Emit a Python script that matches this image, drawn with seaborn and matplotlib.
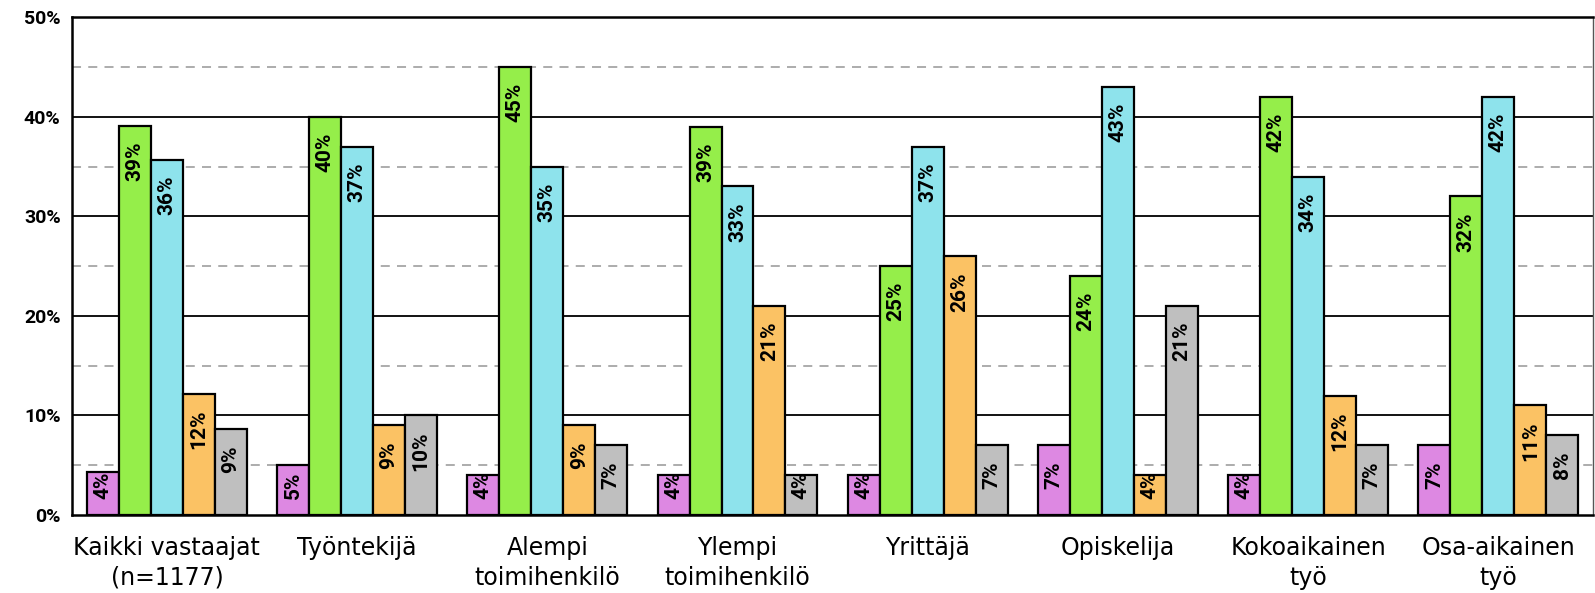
import matplotlib
matplotlib.use("Agg")
import matplotlib.pyplot as plt
import seaborn as sns
import pandas as pd
from matplotlib.ticker import FuncFormatter, MultipleLocator

# Datos
categorias = ["Kaikki vastaajat\n(n=1177)", "Työntekijä", "Alempi\ntoimihenkilö",
              "Ylempi\ntoimihenkilö", "Yrittäjä", "Opiskelija",
              "Kokoaikainen\ntyö", "Osa-aikainen\ntyö"]
series = ["s1", "s2", "s3", "s4", "s5"]
valores_s1 = [4.3, 5, 4, 4, 4, 7, 4, 7]
valores_s2 = [39.1, 40, 45, 39, 25, 24, 42, 32]
valores_s3 = [35.7, 37, 35, 33, 37, 43, 34, 42]
valores_s4 = [12.2, 9, 9, 21, 26, 4, 12, 11]
valores_s5 = [8.6, 10, 7, 4, 7, 21, 7, 8]
colores = ["#DD88E2", "#95EE4A", "#8EE3EC", "#FBC264", "#BFBFBF"]

# Se arma la tabla larga para seaborn
filas = []
for nombre, valores in zip(series, [valores_s1, valores_s2, valores_s3, valores_s4, valores_s5]):
    for cat, v in zip(categorias, valores):
        filas.append({"categoria": cat, "serie": nombre, "valor": v})
datos = pd.DataFrame(filas)

sns.set_style("white")
plt.rcParams["font.family"] = ["DejaVu Sans"]
plt.rcParams["text.color"] = "black"
plt.rcParams["xtick.color"] = "black"
plt.rcParams["ytick.color"] = "black"

figura = plt.figure(figsize=(15.95, 5.93), dpi=100)
area = figura.add_axes([0.045, 0.1315, 0.954, 0.8395])

# Líneas de cuadrícula: sólidas cada 10 y discontinuas cada 5
for y in [5, 15, 25, 35, 45]:
    area.axhline(y, color="#A6A6A6", linestyle=(0, (5, 4)), linewidth=1.3, zorder=0)
for y in [10, 20, 30, 40]:
    area.axhline(y, color="black", linewidth=1.3, zorder=0)

sns.barplot(data=datos, x="categoria", y="valor", hue="serie", hue_order=series,
            order=categorias, palette=colores, saturation=1, width=0.84, gap=0,
            edgecolor="black", linewidth=1.6, legend=False, ax=area, zorder=2)

area.set_ylim(0, 50)
area.set_xlim(-0.5, len(categorias) - 0.5)

# Píxeles por unidad del eje Y, para colocar las etiquetas con margen fijo
px_por_unidad = area.transData.transform((0, 1))[1] - area.transData.transform((0, 0))[1]
margen = 16 / px_por_unidad

# Etiquetas de porcentaje dentro de cada barra, giradas
textos = []
for barra in area.patches:
    altura = barra.get_height()
    if altura <= 0:
        continue
    x = barra.get_x() + barra.get_width() / 2
    t = area.text(x, altura - margen, f"{round(altura):.0f}%", rotation=90,
                  ha="center", va="top", fontsize=15, fontweight="bold",
                  family="Roboto", color="black", zorder=3)
    textos.append(t)

# Si la etiqueta no cabe, se sube hasta dejar el margen sobre la base
figura.canvas.draw()
renderer = figura.canvas.get_renderer()
for t in textos:
    largo = t.get_window_extent(renderer).height / px_por_unidad
    if t.get_position()[1] - largo < margen:
        t.set_y(margen + largo)

area.yaxis.set_major_locator(MultipleLocator(10))
area.yaxis.set_major_formatter(FuncFormatter(lambda v, p: f"{v:.0f}%"))
area.set_xlabel("")
area.set_ylabel("")
area.tick_params(axis="x", length=0, labelsize=17, pad=15)
area.tick_params(axis="y", length=0, labelsize=14, pad=8)
for t in area.get_xticklabels():
    t.set_linespacing(1.3)
for t in area.get_yticklabels():
    t.set_fontweight("bold")
    t.set_family("Roboto")

for lado in ["left", "top", "bottom"]:
    area.spines[lado].set_color("black")
    area.spines[lado].set_linewidth(1.8)
area.spines["right"].set_color("#555555")
area.spines["right"].set_linewidth(1.0)

figura.savefig("out.png", dpi=100)
plt.close(figura)
